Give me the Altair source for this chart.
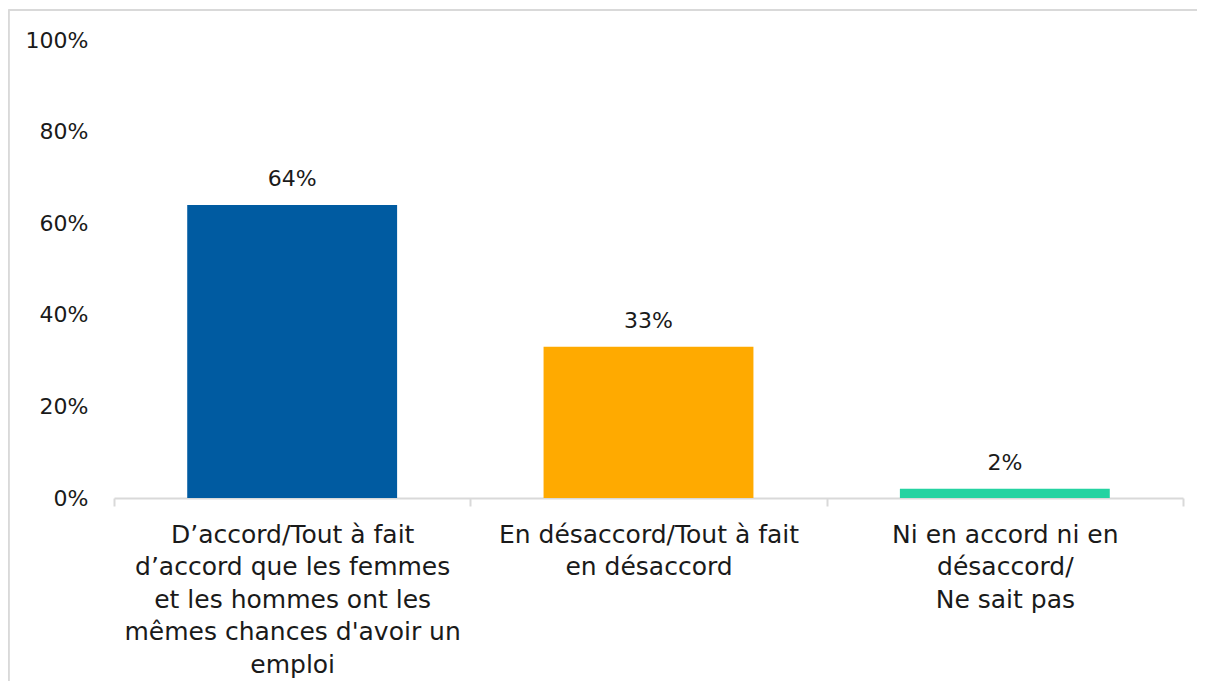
import altair as alt
import pandas as pd

categories = [
    "D\u2019accord/Tout à fait|d\u2019accord que les femmes|et les hommes ont les|mêmes chances d'avoir un|emploi",
    "En désaccord/Tout à fait|en désaccord",
    "Ni en accord ni en|désaccord/|Ne sait pas",
]
values = [0.64, 0.33, 0.02]
colors = ["#005BA1", "#FFAA00", "#24D3A1"]

df = pd.DataFrame({"cat": categories, "val": values, "color": colors})

FONT = "DejaVu Sans"
W, H = 1069, 458
PAD_L, PAD_T = 106, 32
TOTAL_W, TOTAL_H = 1189, 673

x = alt.X(
    "cat:N",
    sort=categories,
    scale=alt.Scale(paddingInner=0, paddingOuter=0),
    axis=alt.Axis(
        title=None,
        labelAngle=0,
        labelExpr="split(datum.label, '|')",
        labelFont=FONT,
        labelFontSize=25,
        labelColor="#1a1a1a",
        labelLineHeight=32.5,
        labelLimit=400,
        labelPadding=16,
        domainColor="#d9d9d9",
        domainWidth=2,
        tickColor="#d9d9d9",
        tickWidth=2,
        tickSize=8,
        tickBand="extent",
    ),
)

y = alt.Y(
    "val:Q",
    scale=alt.Scale(domain=[0, 1]),
    axis=alt.Axis(
        title=None,
        format=".0%",
        values=[0, 0.2, 0.4, 0.6, 0.8, 1.0],
        grid=False,
        domain=False,
        ticks=False,
        labelFont=FONT,
        labelFontSize=22,
        labelColor="#1a1a1a",
        labelPadding=26,
    ),
)

bars = alt.Chart(df).mark_bar(width={"band": 0.589}).encode(
    x=x,
    y=y,
    color=alt.Color("color:N", scale=None),
)

texts = alt.Chart(df).mark_text(
    dy=-26, font=FONT, fontSize=22, color="#1a1a1a", baseline="middle"
).encode(
    x=alt.X("cat:N", sort=categories),
    y="val:Q",
    text=alt.Text("val:Q", format=".0%"),
)

frame_top = alt.Chart(df).mark_rule(stroke="#d9d9d9", strokeWidth=2).encode(
    x=alt.value(-PAD_L + 0.5),
    x2=alt.value(W + 100),
    y=alt.value(-30),
)
frame_left = alt.Chart(df).mark_rule(stroke="#d9d9d9", strokeWidth=2).encode(
    x=alt.value(-PAD_L + 0.5),
    y=alt.value(-30),
    y2=alt.value(H + 300),
)

chart = alt.layer(frame_top, frame_left, bars, texts).properties(
    width=W,
    height=H,
    background="white",
    autosize=alt.AutoSizeParams(type="none"),
    padding={"left": PAD_L, "top": PAD_T, "right": TOTAL_W - PAD_L - W, "bottom": TOTAL_H - PAD_T - H},
).configure_view(strokeWidth=0, stroke="transparent")

chart.save("out.html", embed_options={"renderer": "svg", "actions": False})
